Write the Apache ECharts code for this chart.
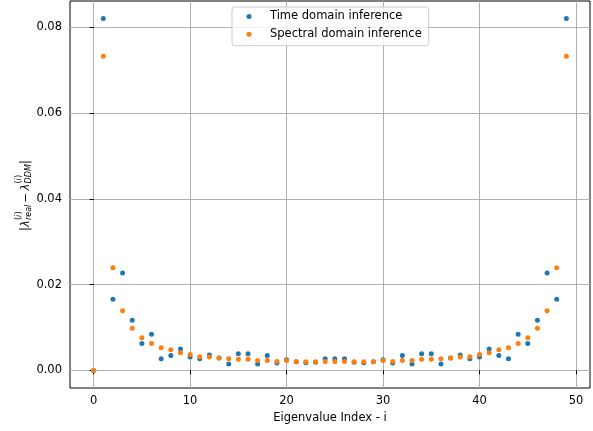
<!DOCTYPE html>
<html>
<head>
<meta charset="utf-8">
<script src="https://cdn.jsdelivr.net/npm/echarts@6/dist/echarts.min.js"></script>
<style>
html,body{margin:0;padding:0;background:#fff;}
#chart{width:593px;height:431px;}
</style>
</head>
<body>
<div id="chart"></div>
<script>
// ---- data ----
var eigenIndex = [0,1,2,3,4,5,6,7,8,9,10,11,12,13,14,15,16,17,18,19,20,21,22,23,24,
                  25,26,27,28,29,30,31,32,33,34,35,36,37,38,39,40,41,42,43,44,45,46,47,48,49];
var timeDomain = [0, 0.0820, 0.0166, 0.0227, 0.0117, 0.0063, 0.0084, 0.0027, 0.0035, 0.0050,
                  0.0031, 0.0027, 0.0036, 0.0029, 0.0015, 0.0039, 0.0039, 0.0015, 0.0035, 0.0017,
                  0.0025, 0.0020, 0.0018, 0.0019, 0.0027, 0.0027, 0.0027, 0.0019, 0.0018, 0.0020,
                  0.0025, 0.0017, 0.0035, 0.0015, 0.0039, 0.0039, 0.0015, 0.0029, 0.0036, 0.0027,
                  0.0031, 0.0050, 0.0035, 0.0027, 0.0084, 0.0063, 0.0117, 0.0227, 0.0166, 0.0820];
var spectralDomain = [0, 0.0732, 0.0239, 0.0139, 0.0098, 0.0076, 0.0063, 0.0053, 0.0048, 0.0041,
                  0.0037, 0.0032, 0.0031, 0.0029, 0.0027, 0.0026, 0.0026, 0.0023, 0.0023, 0.0021,
                  0.0023, 0.0020, 0.0020, 0.0020, 0.0021, 0.0021, 0.0021, 0.0020, 0.0020, 0.0020,
                  0.0023, 0.0021, 0.0023, 0.0023, 0.0026, 0.0026, 0.0027, 0.0029, 0.0031, 0.0032,
                  0.0037, 0.0041, 0.0048, 0.0053, 0.0063, 0.0076, 0.0098, 0.0139, 0.0239, 0.0732];
var seriesNames = ['Time domain inference', 'Spectral domain inference'];
var xTicks = [0, 10, 20, 30, 40, 50];
var yTicks = [0, 0.02, 0.04, 0.06, 0.08];
var xLabel = 'Eigenvalue Index - i';

function pairs(xs, ys) { return xs.map(function (x, i) { return [x, ys[i]]; }); }

var FONT = 'DejaVu Sans';
var FS = 11.5;

var chart = echarts.init(document.getElementById('chart'), null, {renderer: 'canvas'});

var mainFont = 'italic ' + FS + 'px "' + FONT + '"';
var uprightFont = FS + 'px "' + FONT + '"';
var scriptFont = 'italic 8px "' + FONT + '"';
var scriptUpFont = '8px "' + FONT + '"';
function t(text, x, y, font) {
  return {type: 'text', x: x, y: y, style: {text: text, font: font, fill: '#000', align: 'left', verticalAlign: 'middle'}};
}
var yMainY = 2.5, ySupY = -4.5, ySubY = 5.5;
var yLabelGroup = {
  type: 'group', x: 23.5, y: 195, rotation: Math.PI / 2, silent: true,
  children: [
    t('|', -36, yMainY, uprightFont),
    t('\u03bb', -32, yMainY, mainFont),
    t('(', -25, ySupY, scriptUpFont),
    t('i', -22, ySupY, scriptFont),
    t(')', -19.5, ySupY, scriptUpFont),
    t('real', -25, ySubY, scriptFont),
    t('\u2212', -7.5, yMainY, uprightFont),
    t('\u03bb', 4.6, yMainY, mainFont),
    t('(', 11.6, ySupY, scriptUpFont),
    t('i', 14.6, ySupY, scriptFont),
    t(')', 17.1, ySupY, scriptUpFont),
    t('DDM', 11.6, ySubY, scriptFont),
    t('|', 31, yMainY, uprightFont)
  ]
};

var option = {
  animation: false,
  backgroundColor: '#fff',
  textStyle: {fontFamily: FONT},
  grid: {left: 70, right: 3, top: 1, bottom: 43, show: true, borderColor: '#000', borderWidth: 1, backgroundColor: 'transparent'},
  legend: {
    orient: 'vertical', left: 232, top: 7,
    padding: [2.5, 7, 4.5, 14.5],
    itemWidth: 5, itemHeight: 5, itemGap: 3.7,
    backgroundColor: 'rgba(255,255,255,0.8)', borderColor: '#cccccc', borderWidth: 1, borderRadius: 3,
    icon: 'circle',
    textStyle: {fontFamily: FONT, fontSize: FS, color: '#000', lineHeight: 14, padding: [0, 0, 0, 13.5]},
    data: seriesNames
  },
  xAxis: {
    type: 'value', min: -2.45, max: 51.45,
    name: xLabel, nameLocation: 'middle', nameGap: 21,
    nameTextStyle: {fontFamily: FONT, fontSize: FS, color: '#000'},
    axisLine: {show: false},
    axisTick: {show: true, inside: false, length: 4, lineStyle: {color: '#000', width: 1}, customValues: xTicks},
    axisLabel: {fontFamily: FONT, fontSize: FS, color: '#000', margin: 7, customValues: xTicks,
                formatter: function (v) { return String(v); }},
    splitLine: {show: true, lineStyle: {color: '#b0b0b0', width: 1}}
  },
  yAxis: {
    type: 'value', min: -0.0041, max: 0.0861,
    axisLine: {show: false},
    axisTick: {show: true, inside: false, length: 4, lineStyle: {color: '#000', width: 1}, customValues: yTicks},
    axisLabel: {fontFamily: FONT, fontSize: FS, color: '#000', margin: 8, customValues: yTicks,
                formatter: function (v) { return v.toFixed(2); }},
    splitLine: {show: true, lineStyle: {color: '#b0b0b0', width: 1}}
  },
  graphic: [yLabelGroup],
  series: [
    {name: seriesNames[0], type: 'scatter', symbol: 'circle', symbolSize: 5,
     itemStyle: {color: '#1f77b4', opacity: 1}, data: pairs(eigenIndex, timeDomain)},
    {name: seriesNames[1], type: 'scatter', symbol: 'circle', symbolSize: 5,
     itemStyle: {color: '#ff7f0e', opacity: 1}, data: pairs(eigenIndex, spectralDomain)}
  ]
};
chart.setOption(option);
</script>
</body>
</html>
